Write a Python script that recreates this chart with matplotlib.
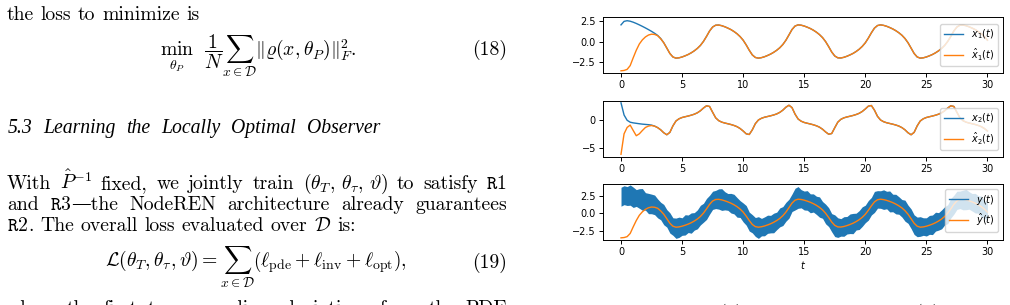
import numpy as np
import matplotlib
matplotlib.use("Agg")
import matplotlib.pyplot as plt
from matplotlib.lines import Line2D

W, H = 1010, 305

# sample times of the read-off curves
t = np.arange(121) * 0.25

# true state x1 (blue, top panel)
x1 = [2.00, 2.42, 2.50, 2.44, 2.32, 2.17, 2.00, 1.82, 1.63, 1.43, 1.22, 0.99, 0.73,
      0.36, -0.15, -0.79, -1.44, -1.86, -2.00,
      -1.96, -1.86, -1.72, -1.56, -1.36, -1.12, -0.83, -0.47, 0.01, 0.61, 1.26, 1.74, 1.96,
      1.98, 1.90, 1.77, 1.61, 1.43, 1.20, 0.93, 0.59, 0.16, -0.41, -1.05, -1.61, -1.92,
      -2.00, -1.94, -1.83, -1.68, -1.51, -1.30, -1.05, -0.75, -0.36, 0.15, 0.79, 1.44, 1.86, 2.00,
      1.96, 1.86, 1.72, 1.56, 1.36, 1.12, 0.83, 0.47, -0.01, -0.61, -1.26, -1.74, -1.96,
      -1.98, -1.90, -1.77, -1.61, -1.43, -1.20, -0.93, -0.59, -0.16, 0.41, 1.05, 1.61, 1.92,
      2.00, 1.94, 1.83, 1.68, 1.51, 1.30, 1.05, 0.75, 0.36, -0.15, -0.79, -1.44, -1.86, -2.00,
      -1.96, -1.86, -1.72, -1.56, -1.36, -1.12, -0.83, -0.47, 0.01, 0.61, 1.26, 1.74, 1.96,
      1.98, 1.90, 1.77, 1.61, 1.43, 1.20, 0.93, 0.59, 0.16]

# true state x2 (blue, middle panel)
x2 = [3.10, 0.90, -0.05, -0.40, -0.52, -0.60, -0.68, -0.75, -0.80, -0.85, -0.93, -1.10, -1.38,
      -1.78, -2.31, -2.67, -2.24, -1.06, -0.18,
      0.22, 0.45, 0.59, 0.72, 0.87, 1.05, 1.30, 1.67, 2.16, 2.57, 2.45, 1.40, 0.39,
      -0.12, -0.39, -0.55, -0.68, -0.82, -0.99, -1.21, -1.54, -1.99, -2.50, -2.62, -1.78, -0.66,
      0.00, 0.31, 0.50, 0.63, 0.76, 0.91, 1.10, 1.38, 1.78, 2.31, 2.67, 2.24, 1.06, 0.18,
      -0.22, -0.45, -0.59, -0.72, -0.87, -1.05, -1.30, -1.67, -2.16, -2.57, -2.45, -1.40, -0.39,
      0.12, 0.39, 0.55, 0.68, 0.82, 0.99, 1.21, 1.54, 1.99, 2.50, 2.62, 1.78, 0.66,
      0.00, -0.31, -0.50, -0.63, -0.76, -0.91, -1.10, -1.38, -1.78, -2.31, -2.67, -2.24, -1.06, -0.18,
      0.22, 0.45, 0.59, 0.72, 0.87, 1.05, 1.30, 1.67, 2.16, 2.57, 2.45, 1.40, 0.39,
      -0.12, -0.39, -0.55, -0.68, -0.82, -0.99, -1.21, -1.54, -1.99]

# observer estimates before they lock onto the true states (orange)
x1_hat_start = [-3.52, -3.48, -3.35, -2.90, -1.95, -1.05, -0.30, 0.20, 0.55, 0.78, 0.88, 0.85, 0.70, 0.33]
x2_hat_start = [-6.20, -2.50, -1.35, -0.92, -1.90, -2.85, -2.50, -1.90, -1.35, -1.10, -1.00, -1.12, -1.38]

# spread of the noisy measurement y above / below x1
y_up = [1.7, 1.5, 1.3, 1.6, 1.4, 1.2, 1.5, 1.7, 1.3, 1.4,
        1.5, 1.6, 1.3, 1.2, 1.4, 1.3, 1.5, 1.2, 1.3, 1.4,
        1.2, 1.5, 1.3, 1.4, 1.2, 1.3, 1.6, 1.4, 1.5, 1.3,
        1.4, 1.3, 1.5, 1.6, 1.3, 1.2, 1.4, 1.5, 1.3, 1.2,
        1.3, 1.5, 1.2, 1.4, 1.3, 1.5, 1.2, 1.3, 1.4, 1.2,
        1.3, 1.2, 1.5, 1.3, 1.4, 1.2, 1.3, 1.7, 1.8, 1.4,
        1.3, 1.5, 1.2, 1.4, 1.3, 1.5, 1.2, 1.3, 1.4, 1.2,
        1.5, 1.3, 1.2, 1.4, 1.3, 1.5, 1.4, 1.2, 1.3, 1.5,
        1.3, 1.4, 1.2, 1.5, 1.3, 1.2, 1.4, 1.3, 1.5, 1.2,
        1.4, 1.3, 1.2, 1.5, 1.3, 1.4, 1.2, 1.3, 1.5, 1.3,
        1.2, 1.4, 1.3, 1.5, 1.2, 1.3, 1.4, 1.2, 1.5, 1.3,
        1.4, 1.2, 1.3, 1.5, 1.3, 1.2, 1.4, 1.3, 1.5, 1.2, 1.3]
y_dn = [1.0, 1.2, 1.4, 1.3, 1.5, 1.2, 1.3, 1.4, 1.2, 1.5,
        1.3, 1.2, 1.4, 1.3, 1.5, 1.2, 1.4, 1.3, 1.6, 1.5,
        1.3, 1.4, 1.2, 1.5, 1.3, 1.4, 1.2, 1.3, 1.5, 1.4,
        1.2, 1.3, 1.4, 1.5, 1.3, 1.2, 1.4, 1.3, 1.5, 1.2,
        1.4, 1.3, 1.5, 1.2, 1.4, 1.6, 1.3, 1.4, 1.2, 1.3,
        1.5, 1.3, 1.2, 1.4, 1.3, 1.5, 1.2, 1.4, 1.3, 1.2,
        1.4, 1.3, 1.5, 1.2, 1.3, 1.4, 1.2, 1.5, 1.3, 1.4,
        1.6, 1.5, 1.3, 1.4, 1.2, 1.3, 1.5, 1.2, 1.4, 1.3,
        1.2, 1.4, 1.3, 1.5, 1.2, 1.3, 1.4, 1.2, 1.5, 1.3,
        1.4, 1.2, 1.3, 1.5, 1.3, 1.4, 1.6, 1.5, 1.3, 1.2,
        1.4, 1.3, 1.5, 1.2, 1.3, 1.4, 1.2, 1.5, 1.3, 1.4,
        1.2, 1.3, 1.5, 1.4, 1.2, 1.3, 1.4, 1.2, 1.5, 1.3, 1.2]

x1 = np.array(x1)
x2 = np.array(x2)
x1_hat = np.concatenate([x1_hat_start, x1[len(x1_hat_start):]])
x2_hat = np.concatenate([x2_hat_start, x2[len(x2_hat_start):]])
y_hi = x1 + np.array(y_up)
y_lo = x1 - np.array(y_dn)

fig = plt.figure(figsize=(W / 100, H / 100), dpi=100)
renderer = fig.canvas.get_renderer()


def panel(top, bottom):
    return fig.add_axes([603.3 / W, 1 - bottom / H, 400 / W, (bottom - top) / H])


ax1 = panel(17.3, 72.7)
ax2 = panel(100.7, 156.7)
ax3 = panel(184, 240)

ax1.plot(t, x1, color="C0", lw=1.0, label=r"$x_1(t)$")
ax1.plot(t, x1_hat, color="C1", lw=1.0, label=r"$\hat{x}_1(t)$")
ax1.set_ylim(-3.75, 2.91)
ax1.set_yticks([-2.5, 0, 2.5])
ax1.legend(loc="center right", fontsize=7)

ax2.plot(t, x2, color="C0", lw=1.0, label=r"$x_2(t)$")
ax2.plot(t, x2_hat, color="C1", lw=1.0, label=r"$\hat{x}_2(t)$")
ax2.set_ylim(-6.64, 3.49)
ax2.set_yticks([-5, 0])
ax2.legend(loc="center right", fontsize=7)

ax3.fill_between(t, y_lo, y_hi, color="C0", lw=0)
ax3.plot(t, x1_hat, color="C1", lw=1.0)
ax3.set_ylim(-3.83, 4.17)
ax3.set_yticks([-2.5, 0, 2.5])
ax3.set_xlabel(r"$t$", fontsize=7, labelpad=1)
handles = [Line2D([], [], color="C0", lw=1.0), Line2D([], [], color="C1", lw=1.0)]
ax3.legend(handles, [r"$y(t)$", r"$\hat{y}(t)$"], loc="upper right", fontsize=7)

for ax in (ax1, ax2, ax3):
    ax.set_xlim(-1.45, 31.3)
    ax.set_xticks([0, 5, 10, 15, 20, 25, 30])
    ax.tick_params(labelsize=7, length=2.8, width=0.7, pad=2.5)
    for s in ax.spines.values():
        s.set_linewidth(0.7)

# ---- left column: paper text ----
body = dict(family=["cmr10", "DejaVu Serif"], math_fontfamily="cm", fontsize=14.2)
ital = dict(family="Liberation Serif", style="italic", fontsize=14.2)


def put(x, y, s, **kw):
    kw.setdefault("ha", "left")
    return fig.text(x / W, 1 - y / H, s, va="baseline", **kw)


def line(words, y, x0, x1=None, style=body, space=6.6):
    groups = []
    for word in words:
        pieces = [word] if isinstance(word, str) else list(word)
        groups.append([put(0, y, p, **style) for p in pieces])
    widths = [sum(a.get_window_extent(renderer).width for a in g) for g in groups]
    gap = space if x1 is None else (x1 - x0 - sum(widths)) / (len(groups) - 1)
    x = x0
    for g in groups:
        for a in g:
            a.set_x(x / W)
            x += a.get_window_extent(renderer).width
        x += gap


line(["the", "loss", "to", "minimize", "is"], 20, 7)
put(258, 56, r"$\min_{\theta_P}\ \ \dfrac{1}{N}\sum_{x\in\mathcal{D}}\Vert\varrho(x,\theta_P)\Vert_F^2.$",
    ha="center", **body)
put(507, 55, "(18)", ha="right", **body)

line(["5.3", "Learning", "the", "Locally", "Optimal", "Observer"], 133, 8, 380, style=ital)

line(["With", r"$\hat{P}^{-1}$", "fixed,", "we", "jointly", "train",
      r"$(\theta_T,\,\theta_\tau,\,\vartheta)$", "to", "satisfy", r"$\mathtt{R1}$"], 189, 7, 507)
line(["and", (r"$\mathtt{R3}$", "—the"), "NodeREN", "architecture", "already", "guarantees"],
     210, 7, 507)
line([(r"$\mathtt{R2}$", "."), "The", "overall", "loss", "evaluated", "over",
      r"$\mathcal{D}$", "is:"], 231, 7)
put(256, 267, r"$\mathcal{L}(\theta_T,\theta_\tau,\vartheta)=\sum_{x\in\mathcal{D}}"
    r"\left(\ell_{\mathrm{pde}}+\ell_{\mathrm{inv}}+\ell_{\mathrm{opt}}\right),$",
    ha="center", **body)
put(507, 268, "(19)", ha="right", **body)
line(["where", "the", "first", "term", "penalizes", "deviations", "from", "the", "PDE"],
     314, 7, 507)

# sub-figure captions, cut off at the bottom edge
put(731, 319, "(a)", ha="center", **body)
put(927, 319, "(b)", ha="center", **body)

fig.savefig("out.png", dpi=100)
